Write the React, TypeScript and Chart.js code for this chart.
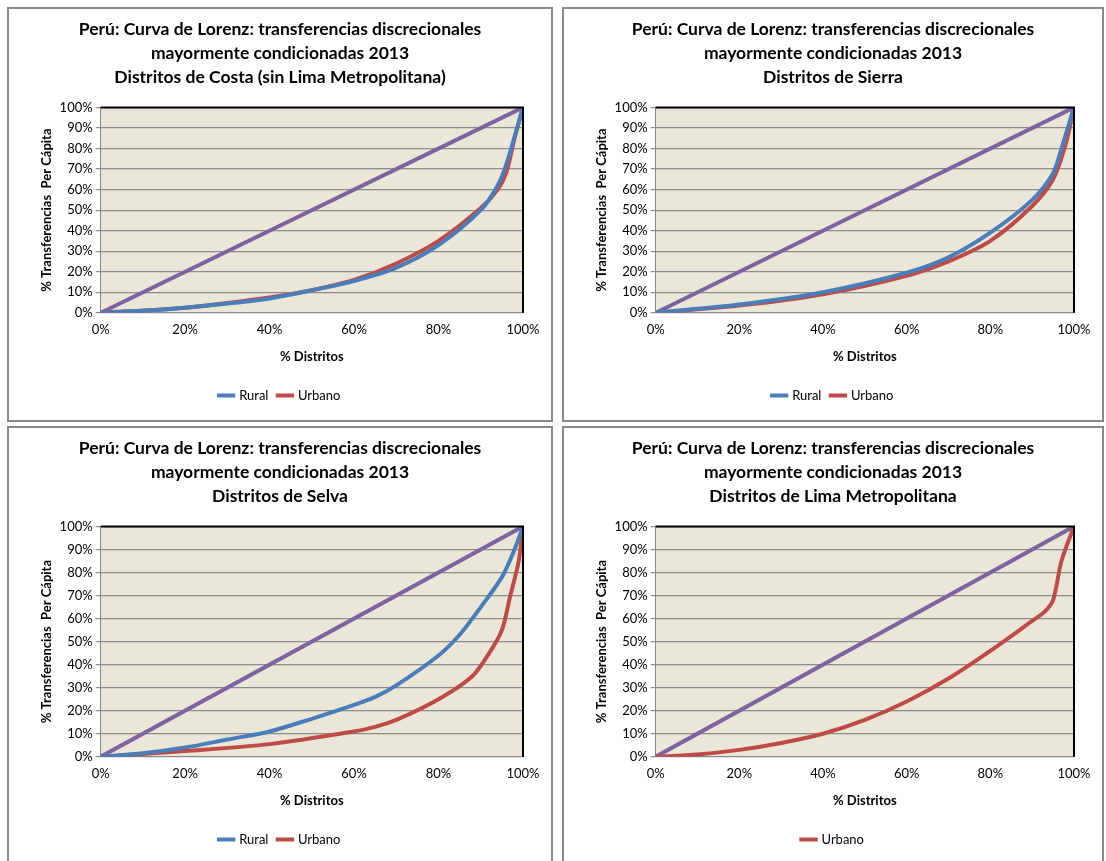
import React, { useEffect, useRef } from "react";
import { Chart, registerables } from "chart.js";
Chart.register(...registerables);

const TITLE_COMMON = ["Perú: Curva de Lorenz: transferencias discrecionales", "mayormente condicionadas 2013"];
const subtitles = ["Distritos de Costa (sin Lima Metropolitana)", "Distritos de Sierra", "Distritos de Selva", "Distritos de Lima Metropolitana"];
const equalityX = [0, 100];
const equalityY = [0, 100];

const costaRuralX = [0, 10, 20, 30, 40, 50, 60, 70, 80, 90, 94, 96, 100];
const costaRuralY = [0, 1, 2.5, 4.5, 7, 11, 15.5, 22, 33, 50, 62, 72, 100];
const costaUrbX = [0, 20, 40, 50, 60, 70, 80, 90, 94, 96, 98, 100];
const costaUrbY = [0, 2.5, 7.5, 11, 16, 24, 35, 51, 60, 68, 85, 100];

const sierraRuralX = [0, 20, 40, 60, 70, 80, 90, 95, 97, 100];
const sierraRuralY = [0, 4, 10, 19.5, 27, 39, 55, 68, 80, 100];
const sierraUrbX = [0, 20, 40, 60, 70, 80, 90, 95, 98, 100];
const sierraUrbY = [0, 3.5, 9, 18, 25, 35, 52, 65, 82, 100];

const selvaRuralX = [0, 10, 20, 30, 40, 50, 60, 65, 70, 80, 85, 90, 95, 98, 100];
const selvaRuralY = [0, 1.5, 4, 7.5, 11, 16.5, 22.5, 26, 31, 44, 53, 65, 78, 90, 100];
const selvaUrbX = [0, 20, 40, 60, 65, 70, 80, 88, 92, 95, 97, 99, 100];
const selvaUrbY = [0, 2.5, 5.5, 11, 13, 16, 25, 35, 45, 55, 70, 85, 100];

const limaUrbX = [0, 10, 20, 30, 40, 50, 60, 70, 80, 90, 93, 95, 97, 100];
const limaUrbY = [0, 1, 3, 6, 10, 16, 24, 34, 46, 59, 63, 68, 85, 100];

const BLUE = "#4A7EBB";
const RED = "#BE4B48";
const PURPLE = "#7F63A1";
const FONT = "Lato, 'Open Sans', sans-serif";

const pts = (xs: number[], ys: number[]) => xs.map((x, i) => ({ x, y: ys[i] }));

type Series = { label: string; color: string; xs: number[]; ys: number[] };

const panelsDef: { sub: string; series: Series[]; left: number; top: number; w: number; h: number }[] = [
  { sub: subtitles[0], left: 7, top: 7, w: 546, h: 415, series: [
    { label: "Rural", color: BLUE, xs: costaRuralX, ys: costaRuralY },
    { label: "Urbano", color: RED, xs: costaUrbX, ys: costaUrbY }] },
  { sub: subtitles[1], left: 562, top: 7, w: 542, h: 415, series: [
    { label: "Rural", color: BLUE, xs: sierraRuralX, ys: sierraRuralY },
    { label: "Urbano", color: RED, xs: sierraUrbX, ys: sierraUrbY }] },
  { sub: subtitles[2], left: 7, top: 426, w: 546, h: 440, series: [
    { label: "Rural", color: BLUE, xs: selvaRuralX, ys: selvaRuralY },
    { label: "Urbano", color: RED, xs: selvaUrbX, ys: selvaUrbY }] },
  { sub: subtitles[3], left: 562, top: 426, w: 542, h: 440, series: [
    { label: "Urbano", color: RED, xs: limaUrbX, ys: limaUrbY }] },
];

const bgPlugin = {
  id: "bg",
  beforeDraw(chart: any) {
    const { ctx, chartArea: a } = chart;
    ctx.save();
    ctx.fillStyle = "#EAE7D9";
    ctx.fillRect(a.left, a.top, a.right - a.left, a.bottom - a.top);
    ctx.restore();
  },
  afterDatasetsDraw(chart: any) {
    const { ctx, chartArea: a } = chart;
    ctx.save();
    ctx.strokeStyle = "#000";
    ctx.lineWidth = 2;
    ctx.beginPath();
    ctx.moveTo(a.left, a.top);
    ctx.lineTo(a.right, a.top);
    ctx.lineTo(a.right, a.bottom);
    ctx.stroke();
    ctx.restore();
  },
};

function Panel({ def }: { def: (typeof panelsDef)[number] }) {
  const ref = useRef<HTMLCanvasElement>(null);
  useEffect(() => {
    const datasets: any[] = [
      ...def.series.map((s) => ({
        label: s.label, data: pts(s.xs, s.ys), borderColor: s.color, backgroundColor: s.color,
        borderWidth: 4, pointRadius: 0, tension: 0.3, fill: false,
      })),
    ];
    datasets.push({ label: "eq", data: pts(equalityX, equalityY), borderColor: PURPLE, backgroundColor: PURPLE, borderWidth: 4, pointRadius: 0, fill: false });
    const chart = new Chart(ref.current!, {
      type: "line",
      data: { datasets },
      plugins: [bgPlugin],
      options: {
        animation: false,
        responsive: false,
        layout: { padding: { left: 28, right: 28, top: 4, bottom: 8 } },
        plugins: {
          title: { display: true, text: [...TITLE_COMMON, def.sub], color: "#000", font: { family: FONT, size: 17.5, weight: "bold", lineHeight: 1.38 }, padding: { top: 4, bottom: 18 } } as any,
          legend: {
            position: "bottom",
            labels: {
              filter: (it: any) => it.text !== "eq",
              usePointStyle: true, pointStyle: "line", color: "#000",
              font: { family: FONT, size: 13 }, boxWidth: 46, padding: 10,
            },
          },
          tooltip: { enabled: false },
        },
        scales: {
          x: {
            type: "linear", min: 0, max: 100,
            ticks: { stepSize: 20, callback: (v: any) => v + "%", color: "#000", font: { family: FONT, size: 13 }, padding: 4 },
            grid: { display: false, drawTicks: true, tickLength: 5 },
            border: { color: "#888", width: 1 },
            title: { display: true, text: "% Distritos", color: "#000", font: { family: FONT, size: 13, weight: "bold" }, padding: { top: 8, bottom: 14 } },
          },
          y: {
            min: 0, max: 100,
            ticks: { stepSize: 10, callback: (v: any) => v + "%", color: "#000", font: { family: FONT, size: 13 }, padding: 3 },
            grid: { color: "#8C8C8C", lineWidth: 1.2, tickLength: 5 },
            border: { color: "#888", width: 1 },
            title: { display: true, text: "% Transferencias  Per Cápita", color: "#000", font: { family: FONT, size: 13, weight: "bold" }, padding: 2 },
          },
        },
      } as any,
    });
    return () => chart.destroy();
  }, []);
  return (
    <div style={{ position: "absolute", left: def.left, top: def.top, width: def.w, height: def.h, border: "2px solid #8A8A8A", boxSizing: "border-box", background: "#fff" }}>
      <canvas ref={ref} width={def.w - 4} height={def.h - 4} style={{ display: "block" }} />
    </div>
  );
}

export default function App() {
  return (
    <div style={{ position: "fixed", left: 0, top: 0, width: 1106, height: 861, background: "#fff", overflow: "hidden" }}>
      {panelsDef.map((d, i) => <Panel key={i} def={d} />)}
    </div>
  );
}
